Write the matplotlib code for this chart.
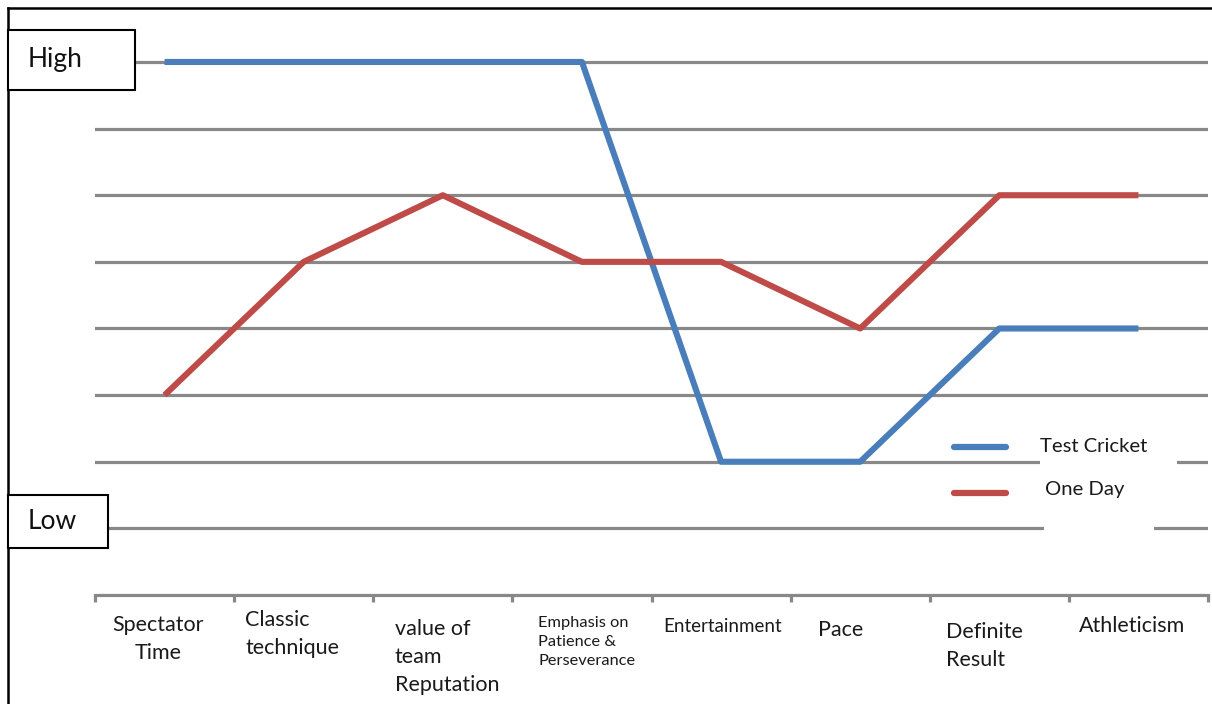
import matplotlib
matplotlib.use("Agg")
import matplotlib.pyplot as plt
from matplotlib.patches import Rectangle
from matplotlib.lines import Line2D

categories = ["Spectator\nTime", "Classic\ntechnique", "value of\nteam\nReputation",
              "Emphasis on\nPatience &\nPerseverance", "Entertainment", "Pace",
              "Definite\nResult", "Athleticism"]
test_cricket = [8, 8, 8, 8, 2, 2, 4, 4]
one_day = [3, 5, 6, 5, 5, 4, 6, 6]
levels = [1, 2, 3, 4, 5, 6, 7, 8]
series_names = ["Test Cricket", "One Day"]

BLUE = "#4a7ebb"
RED = "#be4b48"
GRID = "#888888"
FONT = "Lato"

W, H = 1212, 704
fig = plt.figure(figsize=(W / 100, H / 100), dpi=100)


def fx(px):
    return px / W


def fy(py):
    return 1 - py / H


ax = fig.add_axes([fx(95), fy(595), fx(1208) - fx(95), fy(22) - fy(595)])
ax.set_xlim(-0.5, len(categories) - 0.5)
ax.set_ylim(0, 8.6)

for lv in levels:
    ax.axhline(lv, color=GRID, lw=2.3, zorder=1)

x = list(range(len(categories)))
ax.plot(x, test_cricket, color=BLUE, lw=4.4, zorder=3, solid_capstyle="butt")
ax.plot(x, one_day, color=RED, lw=4.4, zorder=3, solid_capstyle="butt")

for s in ["top", "left", "right"]:
    ax.spines[s].set_visible(False)
ax.spines["bottom"].set_color(GRID)
ax.spines["bottom"].set_linewidth(2.3)
ax.set_yticks([])
ax.set_xticks([i - 0.5 for i in range(len(categories) + 1)])
ax.set_xticklabels([])
ax.tick_params(axis="x", direction="out", length=5, width=2.3, color=GRID)

# white patches behind the legend entries
ax.add_patch(Rectangle((6.29, 1.9), 0.99, 0.2, facecolor="white", edgecolor="none", zorder=2))
ax.add_patch(Rectangle((6.32, 0.9), 0.79, 0.2, facecolor="white", edgecolor="none", zorder=2))

# legend drawn by hand
leg_y = [447, 493]
leg_text_x = [1040, 1045]
leg_text_y = [446, 490]
for name, col, ly, tx, ty in zip(series_names, [BLUE, RED], leg_y, leg_text_x, leg_text_y):
    fig.add_artist(Line2D([fx(954), fx(1006)], [fy(ly), fy(ly)], color=col, lw=4.5,
                          solid_capstyle="round"))
    fig.text(fx(tx), fy(ty), name, fontsize=14.6, family=FONT, va="center", ha="left",
             color="#1a1a1a")

# category labels beneath the axis
label_pos = [(158, 615, "center", 15.5, 1.5), (245, 610, "left", 15.5, 1.5),
             (395, 619, "left", 15.5, 1.5), (538, 616, "left", 11.8, 1.45),
             (663, 618, "left", 13.5, 1.5), (818, 620, "left", 15.5, 1.5),
             (946, 622, "left", 15.5, 1.5), (1079, 616, "left", 15.5, 1.5)]
for lab, (px, py, ha, fs, ls) in zip(categories, label_pos):
    fig.text(fx(px), fy(py), lab, fontsize=fs, family=FONT, ha=ha, va="top",
             multialignment=ha, linespacing=ls, color="#1a1a1a")

# High / Low boxes
for (x0, y0, x1, y1, txt, tx) in [(8, 30, 135, 90, "High", 28), (8, 495, 108, 548, "Low", 28)]:
    fig.add_artist(Rectangle((fx(x0), fy(y1)), fx(x1) - fx(x0), fy(y0) - fy(y1),
                             transform=fig.transFigure, facecolor="white",
                             edgecolor="black", lw=1.5, zorder=5))
    fig.text(fx(tx), fy((y0 + y1) / 2), txt, fontsize=19, family=FONT, ha="left",
             va="center", zorder=6, color="#111111")

# outer frame (left and top)
fig.add_artist(Line2D([fx(8), fx(8)], [fy(8), 0], color="black", lw=1.8))
fig.add_artist(Line2D([fx(8), 1], [fy(8), fy(8)], color="black", lw=1.8))

fig.savefig("out.png", dpi=100, facecolor="white")
